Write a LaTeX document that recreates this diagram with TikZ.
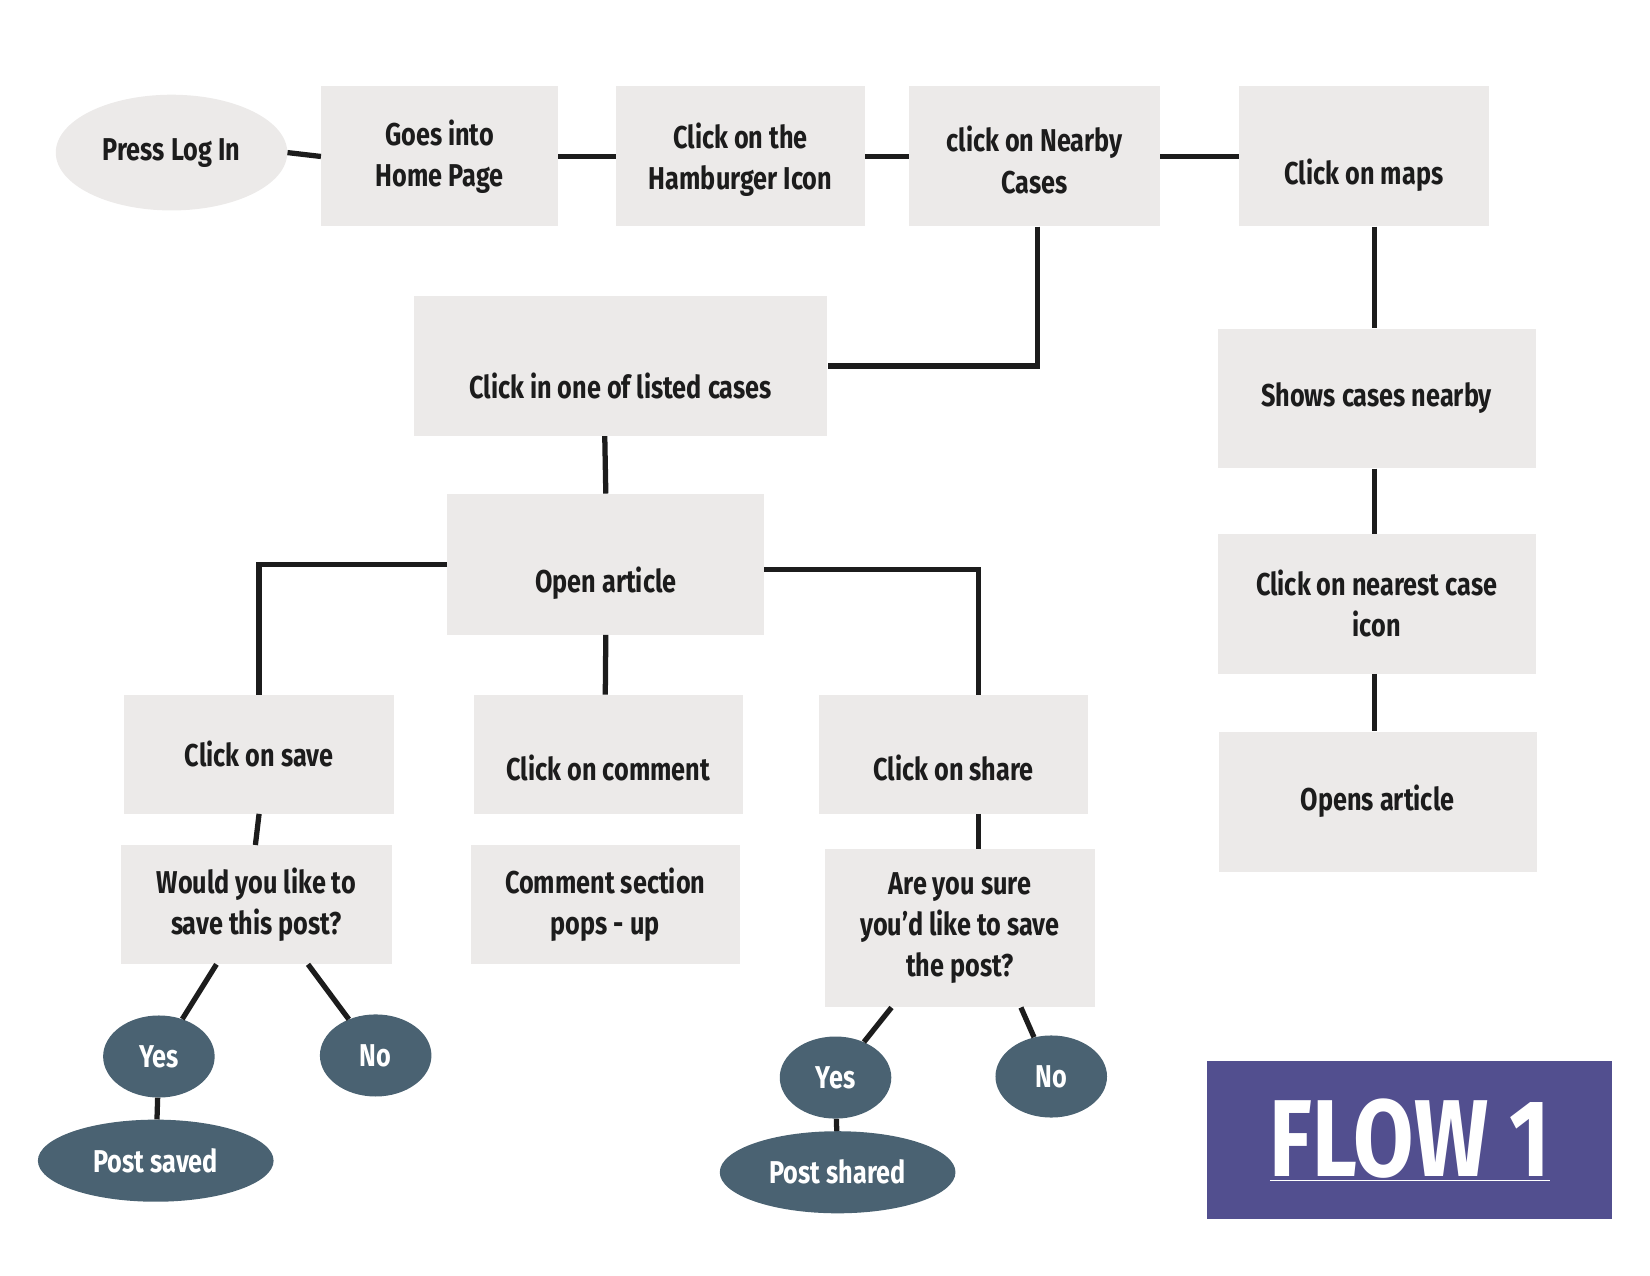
\documentclass[tikz,border=0pt]{standalone}
\usepackage{fontspec}
\setmainfont{Fira Sans}[FakeStretch=0.8]
\usetikzlibrary{calc,shapes.geometric}
\definecolor{boxg}{HTML}{ECEAE9}
\definecolor{ovd}{HTML}{4A6272}
\definecolor{purp}{HTML}{524F8F}
\definecolor{ln}{HTML}{1C1C1C}
\begin{document}
\begin{tikzpicture}[x=1pt,y=-1pt,
  bx/.style={fill=boxg,draw=none,anchor=north west,inner sep=0pt,align=center,text=ln,font=\fontsize{30}{39}\selectfont\bfseries},
  ov/.style={ellipse,fill=ovd,draw=none,inner sep=0pt,text=white,font=\fontsize{30}{39}\selectfont\bfseries},
  cn/.style={line width=5pt,draw=ln}]
\useasboundingbox (0,0) rectangle (1568,1212);
\node[ellipse,fill=boxg,minimum width=220,minimum height=110,inner sep=0pt,text=ln,font=\fontsize{30}{39}\selectfont\bfseries] (login) at (163,145) {Press Log In};
\node[bx,minimum width=225,minimum height=133] (home) at (305,82) {Goes into\\Home Page};
\node[bx,minimum width=237,minimum height=133,text height=70] (ham) at (585,82) {Click on the\\Hamburger Icon};
\node[bx,minimum width=238,minimum height=133,text height=70] (near) at (864,82) {click on Nearby\\Cases};
\node[bx,minimum width=238,minimum height=133,text height=60] (maps) at (1177,82) {Click on maps};
\node[bx,minimum width=393,minimum height=133,text height=62] (listed) at (393,281) {Click in one of listed cases};
\node[bx,minimum width=302,minimum height=133] (shows) at (1157,312) {Shows cases nearby};
\node[bx,minimum width=302,minimum height=133] (nearest) at (1157,507) {Click on nearest case\\icon};
\node[bx,minimum width=302,minimum height=133] (opens) at (1158,695) {Opens article};
\node[bx,minimum width=301,minimum height=134,text height=60] (open) at (425,469) {Open article};
\node[bx,minimum width=256,minimum height=113] (save) at (118,660) {Click on save};
\node[bx,minimum width=256,minimum height=113,text height=50] (comment) at (450,660) {Click on comment};
\node[bx,minimum width=256,minimum height=113,text height=50] (share) at (778,660) {Click on share};
\node[bx,minimum width=257,minimum height=113] (would) at (115,803) {Would you like to\\save this post?};
\node[bx,minimum width=256,minimum height=113] (csec) at (447,803) {Comment section\\pops - up};
\node[bx,minimum width=256,minimum height=150] (sure) at (784,807) {Are you sure\\you’d like to save\\the post?};
\node[ov,minimum width=106,minimum height=78] (y1) at (151,1004) {Yes};
\node[ov,minimum width=106,minimum height=78] (n1) at (357,1003) {No};
\node[ov,minimum width=224,minimum height=78] (ps) at (148,1103) {Post saved};
\node[ov,minimum width=106,minimum height=78] (y2) at (794,1024) {Yes};
\node[ov,minimum width=106,minimum height=78] (n2) at (999,1023) {No};
\node[ov,minimum width=224,minimum height=78] (psh) at (796,1114) {Post shared};
\node[fill=purp,anchor=north west,minimum width=385,minimum height=150,inner sep=0pt,text=white,font=\fontsize{104}{110}\selectfont\bfseries] (flow) at (1147,1008) {\underline{FLOW 1}};
\draw[cn] (login.east) -- (home.west);
\draw[cn] (home.east) -- (ham.west);
\draw[cn] (ham.east) -- (near.west);
\draw[cn] (near.east) -- (maps.west);
\draw[cn] ([xshift=3]near.south) |- (listed.east);
\draw[cn] ([xshift=10]maps.south) -- ([xshift=-2]shows.north);
\draw[cn] ([xshift=-2]shows.south) -- ([xshift=-2]nearest.north);
\draw[cn] ([xshift=-2]nearest.south) -- ([xshift=-3]opens.north);
\draw[cn] ([xshift=-15]listed.south) -- ([xshift=0]open.north);
\draw[cn] (open.west) -| (save.north);
\draw[cn] (open.south) -- ([xshift=-3]comment.north);
\draw[cn] ([yshift=-5]open.east) -| ([xshift=24]share.north);
\draw[cn] (save.south) -- ([xshift=-1]would.north);
\draw[cn] ([xshift=24]share.south) -- ([xshift=18]sure.north);
\draw[cn] ([xshift=-38]would.south) -- (y1);
\draw[cn] ([xshift=49]would.south) -- (n1);
\draw[cn] (y1) -- (ps);
\draw[cn] ([xshift=-65]sure.south) -- (y2);
\draw[cn] ([xshift=58]sure.south) -- (n2);
\draw[cn] (y2) -- (psh);
\end{tikzpicture}
\end{document}
